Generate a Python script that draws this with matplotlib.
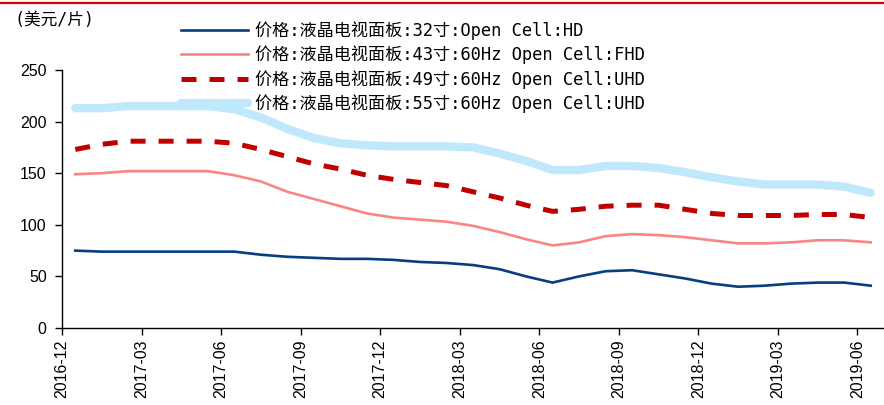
import numpy as np
import matplotlib.pyplot as plt
from matplotlib.lines import Line2D

# monthly prices, 2016-12 .. 2019-06 (USD per panel)
months = ['2016-12', '2017-01', '2017-02', '2017-03', '2017-04', '2017-05', '2017-06',
          '2017-07', '2017-08', '2017-09', '2017-10', '2017-11', '2017-12', '2018-01',
          '2018-02', '2018-03', '2018-04', '2018-05', '2018-06', '2018-07', '2018-08',
          '2018-09', '2018-10', '2018-11', '2018-12', '2019-01', '2019-02', '2019-03',
          '2019-04', '2019-05', '2019-06']
price_32 = [75, 74, 74, 74, 74, 74, 74, 71, 69, 68, 67, 67, 66, 64, 63, 61,
            57, 50, 44, 50, 55, 56, 52, 48, 43, 40, 41, 43, 44, 44, 41]
price_43 = [149, 150, 152, 152, 152, 152, 148, 142, 132, 125, 118, 111, 107, 105, 103, 99,
            93, 86, 80, 83, 89, 91, 90, 88, 85, 82, 82, 83, 85, 85, 83]
price_49 = [173, 178, 181, 181, 181, 181, 179, 173, 166, 159, 154, 148, 144, 141, 138, 132,
            126, 119, 113, 115, 118, 119, 119, 115, 111, 109, 109, 109, 110, 110, 107]
price_55 = [213, 213, 215, 215, 215, 215, 212, 204, 193, 184, 179, 177, 176, 176, 176, 175,
            169, 162, 153, 153, 157, 157, 155, 151, 146, 142, 139, 139, 139, 137, 131]
labels = ['价格:液晶电视面板:32寸:Open Cell:HD',
          '价格:液晶电视面板:43寸:60Hz Open Cell:FHD',
          '价格:液晶电视面板:49寸:60Hz Open Cell:UHD',
          '价格:液晶电视面板:55寸:60Hz Open Cell:UHD']
yticks = [0, 50, 100, 150, 200, 250]

plt.rcParams['font.family'] = ['Liberation Sans', 'Noto Sans CJK SC']
cjk = ['DejaVu Sans Mono', 'Noto Sans CJK SC']

W, H = 884, 405
fig = plt.figure(figsize=(W / 100, H / 100), dpi=100)
ax = fig.add_axes([62 / W, 1 - 328 / H, (W - 62) / W, (328 - 70) / H])

x = np.arange(len(months)) + 0.5
ax.plot(x, price_32, color='#083d80', lw=1.9, label=labels[0], zorder=4)
ax.plot(x, price_43, color='#fb8585', lw=1.9, label=labels[1], zorder=3)
ax.plot(x, price_49, color='#c00000', lw=3.6, dashes=(3, 2.6), label=labels[2], zorder=2)
ax.plot(x, price_55, color='#bfe9fa', lw=6, solid_capstyle='round', label=labels[3], zorder=1)

ax.set_xlim(0, len(months))
ax.set_ylim(0, 250)
ax.set_yticks(yticks)
ax.set_xticks(np.arange(0, len(months), 3))
ax.set_xticklabels(months[::3], rotation=90)
ax.tick_params(axis='both', labelsize=11.5, direction='out', length=5, width=1, colors='black')
ax.tick_params(axis='y', pad=6)
for s in ['top', 'right']:
    ax.spines[s].set_visible(False)
for s in ['left', 'bottom']:
    ax.spines[s].set_linewidth(1)

fig.legend(loc='upper left', bbox_to_anchor=(181 / W, 1 - 21 / H), frameon=False,
           prop={'family': cjk, 'size': 12.3}, handlelength=3.9, handletextpad=0.45,
           labelspacing=0.33, borderaxespad=0, borderpad=0)

fig.text(14 / W, 1 - 20 / H, '(美元/片)', family=cjk, fontsize=12, va='center', ha='left')
fig.add_artist(Line2D([0, 1], [1 - 2.5 / H, 1 - 2.5 / H], color='#e00000', lw=1.6,
                      transform=fig.transFigure))

fig.savefig('out.png', dpi=100)
